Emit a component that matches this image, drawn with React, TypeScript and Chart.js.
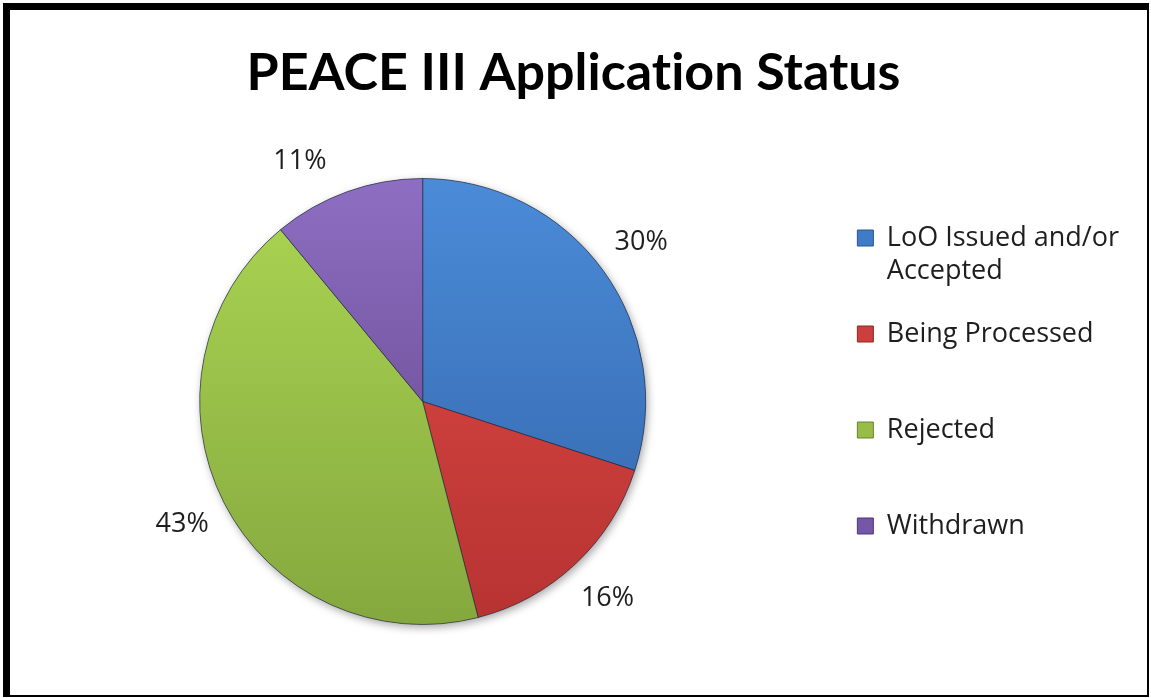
import React, { useEffect, useRef } from "react";
import { Chart, registerables } from "chart.js";

Chart.register(...registerables);

// ---- data ----
const chartTitle = "PEACE III Application Status";
const categories = ["LoO Issued and/or Accepted", "Being Processed", "Rejected", "Withdrawn"];
const shares = [30, 16, 43, 11];

// ---- styles ----
const topColors = ["#4b8bd8", "#e24b46", "#acd653", "#8e6ec2"];
const bottomColors = ["#3264a8", "#b63332", "#85a83e", "#5e4184"];
const legendFill = ["#3f7cc8", "#cc3f3c", "#97bd48", "#7656a6"];
const legendStroke = ["#2a5590", "#8e2826", "#66852f", "#4f3878"];

const textFont = "'Open Sans', 'DejaVu Sans', sans-serif";

function wrapLabel(label: string, maxChars: number): string[] {
  const words = label.split(" ");
  const lines: string[] = [];
  let cur = "";
  for (const w of words) {
    const next = cur ? cur + " " + w : w;
    if (next.length > maxChars && cur) {
      lines.push(cur);
      cur = w;
    } else {
      cur = next;
    }
  }
  if (cur) lines.push(cur);
  while (lines.length < 2) lines.push("");
  return lines;
}

const noLigatures = {
  id: "noLigatures",
  beforeDraw(chart: any) {
    try {
      (chart.ctx as any).textRendering = "optimizeSpeed";
    } catch (e) {
      /* ignore */
    }
  },
};

const pieShadow = {
  id: "pieShadow",
  beforeDatasetsDraw(chart: any) {
    const meta = chart.getDatasetMeta(0);
    const arc = meta.data[0];
    if (!arc) return;
    const { x, y, outerRadius } = arc.getProps(["x", "y", "outerRadius"], true);
    const ctx = chart.ctx;
    ctx.save();
    ctx.shadowColor = "rgba(0,0,0,0.35)";
    ctx.shadowBlur = 9;
    ctx.shadowOffsetX = 2;
    ctx.shadowOffsetY = 3;
    ctx.beginPath();
    ctx.arc(x, y, outerRadius, 0, Math.PI * 2);
    ctx.fillStyle = "#777";
    ctx.fill();
    ctx.restore();
  },
};

// percentage labels outside the pie ("best fit": kept below the title band)
const sliceLabels = {
  id: "sliceLabels",
  afterDatasetsDraw(chart: any) {
    const meta = chart.getDatasetMeta(0);
    const data = chart.data.datasets[0].data as number[];
    const total = data.reduce((a, b) => a + b, 0);
    const ctx = chart.ctx;
    const minY = chart.chartArea.top - 17;
    ctx.save();
    ctx.font = `27px ${textFont}`;
    ctx.fillStyle = "#1e1e1e";
    ctx.textAlign = "center";
    ctx.textBaseline = "middle";
    meta.data.forEach((arc: any, i: number) => {
      const { x, y, startAngle, endAngle, outerRadius } = arc.getProps(
        ["x", "y", "startAngle", "endAngle", "outerRadius"],
        true
      );
      const mid = (startAngle + endAngle) / 2;
      const r = outerRadius + 47;
      let lx = x + Math.cos(mid) * r;
      let ly = y + Math.sin(mid) * r;
      if (ly < minY) {
        const dy = minY - y;
        lx = x + Math.sign(Math.cos(mid)) * Math.sqrt(Math.max(r * r - dy * dy, 0));
        ly = minY;
      }
      const pct = Math.round((data[i] / total) * 100) + "%";
      ctx.fillText(pct, lx, ly);
    });
    ctx.restore();
  },
};

export default function App() {
  const canvasRef = useRef<HTMLCanvasElement | null>(null);

  useEffect(() => {
    if (!canvasRef.current) return;
    const chart = new Chart(canvasRef.current, {
      type: "pie",
      data: {
        labels: categories,
        datasets: [
          {
            data: shares,
            backgroundColor: (c: any) => {
              const i = c.dataIndex;
              const area = c.chart.chartArea;
              if (!area) return legendFill[i];
              const g = c.chart.ctx.createLinearGradient(0, area.top, 0, area.bottom);
              g.addColorStop(0, topColors[i]);
              g.addColorStop(1, bottomColors[i]);
              return g;
            },
            borderColor: "rgba(25,35,60,0.6)",
            borderWidth: 1,
            hoverBorderWidth: 1,
            hoverOffset: 0,
            offset: 0,
          },
        ],
      },
      options: {
        animation: false,
        responsive: true,
        maintainAspectRatio: false,
        layout: { padding: { left: 8, right: 18, top: 0, bottom: 70 } },
        plugins: {
          title: {
            display: true,
            text: chartTitle,
            color: "#000",
            font: {
              family: "Lato, 'Open Sans', sans-serif",
              weight: "bold",
              size: 52,
              lineHeight: 1.2,
            },
            padding: { top: 32, bottom: 73.6 },
          },
          legend: {
            display: true,
            position: "right",
            align: "center",
            fullSize: false,
            labels: {
              color: "#1e1e1e",
              font: { family: textFont, size: 27, lineHeight: 1.222 },
              boxWidth: 16,
              boxHeight: 16,
              padding: 30,
              generateLabels: () =>
                categories.map((c, i) => ({
                  text: wrapLabel(c, 18) as any,
                  fillStyle: legendFill[i],
                  strokeStyle: legendStroke[i],
                  lineWidth: 1,
                  hidden: false,
                  index: i,
                  datasetIndex: 0,
                  fontColor: "#1e1e1e",
                })),
            },
          },
          tooltip: { enabled: false },
        },
      },
      plugins: [noLigatures, pieShadow, sliceLabels],
    });
    return () => chart.destroy();
  }, []);

  return (
    <div
      style={{
        position: "fixed",
        left: 3,
        top: 3,
        width: 1146,
        height: 694,
        boxSizing: "border-box",
        borderStyle: "solid",
        borderColor: "#000",
        borderWidth: "7px 2px 2px 7px",
        background: "#fff",
      }}
    >
      <div style={{ position: "relative", width: 1137, height: 685 }}>
        <canvas ref={canvasRef} />
      </div>
    </div>
  );
}
